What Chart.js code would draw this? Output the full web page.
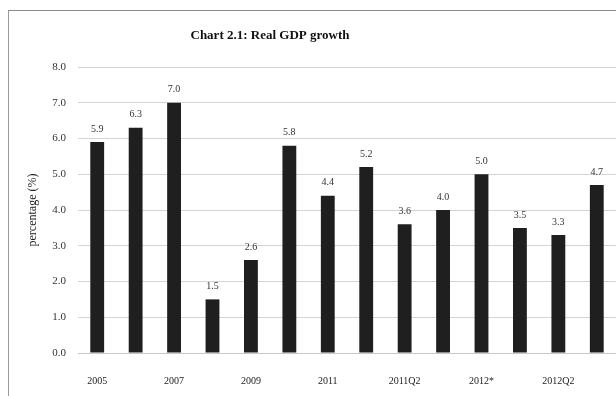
<!DOCTYPE html>
<html>
<head>
<meta charset="utf-8">
<script src="https://cdn.jsdelivr.net/npm/chart.js@4"></script>
<style>
    html, body { margin: 0; padding: 0; background: #fff; }
    #wrap { position: relative; width: 616px; height: 396px; overflow: hidden; }
    #frame { position: absolute; left: 8px; top: 10px; width: 620px; height: 400px;
             border-top: 1px solid #8a8a8a; border-left: 1px solid #9a9a9a; }
    canvas { position: absolute; left: 0; top: 0; }
</style>
</head>
<body>
<div id="wrap">
    <div id="frame"></div>
    <canvas id="gdpChart" width="616" height="396"></canvas>
</div>
<script>
// Données
const categories = ['2005', '2006', '2007', '2008', '2009', '2010', '2011',
    '2011Q1', '2011Q2', '2011Q3', '2012*', '2012Q1', '2012Q2', '2012Q3'];
const growth = [5.9, 6.3, 7.0, 1.5, 2.6, 5.8, 4.4, 5.2, 3.6, 4.0, 5.0, 3.5, 3.3, 4.7];
const yTicks = [0, 1, 2, 3, 4, 5, 6, 7, 8];
const chartTitle = 'Chart 2.1: Real GDP growth';

const serif = '"Liberation Serif", "DejaVu Serif", serif';

// Titre et étiquettes de valeur au-dessus des barres
const valueLabels = {
    id: 'valueLabels',
    afterDatasetsDraw(chart) {
        const ctx = chart.ctx;
        const meta = chart.getDatasetMeta(0);
        ctx.save();
        ctx.font = '10px ' + serif;
        ctx.fillStyle = '#333';
        ctx.textAlign = 'center';
        ctx.textBaseline = 'bottom';
        meta.data.forEach((bar, i) => {
            ctx.fillText(growth[i].toFixed(1), bar.x, bar.y - 8);
        });

        // titre décalé à gauche comme sur l'original
        ctx.font = 'bold 13px ' + serif;
        ctx.fillStyle = '#111';
        ctx.textBaseline = 'middle';
        ctx.fillText(chartTitle, 270, 36);
        ctx.restore();
    }
};

new Chart(document.getElementById('gdpChart'), {
    type: 'bar',
    data: {
        labels: categories,
        datasets: [{
            data: growth,
            backgroundColor: '#1f1f1f',
            borderWidth: 0,
            barPercentage: 0.72,
            categoryPercentage: 0.5
        }]
    },
    options: {
        responsive: false,
        animation: false,
        layout: { padding: { left: 26, right: 0, top: 67, bottom: 0 } },
        plugins: {
            legend: { display: false },
            tooltip: { enabled: false },
            title: { display: false }
        },
        scales: {
            x: {
                afterFit: scale => { scale.height = 43; },
                grid: { display: false },
                border: { color: '#c8c8c8' },
                ticks: {
                    color: '#222',
                    font: { family: serif, size: 10 },
                    padding: 14,
                    autoSkip: false,
                    maxRotation: 0,
                    callback: (v, i) => (i % 2 === 0 ? categories[i] : '')
                }
            },
            y: {
                min: 0,
                max: 8,
                afterFit: scale => { scale.width = 52; },
                afterBuildTicks: scale => { scale.ticks = yTicks.map(v => ({ value: v })); },
                grid: { color: '#d4d4d4', drawTicks: false },
                border: { display: false },
                ticks: {
                    color: '#333',
                    font: { family: serif, size: 11 },
                    padding: 12,
                    callback: v => v.toFixed(1)
                },
                title: {
                    display: true,
                    text: 'percentage (%)',
                    color: '#222',
                    font: { family: serif, size: 12 },
                    padding: 0
                }
            }
        }
    },
    plugins: [valueLabels]
});
</script>
</body>
</html>
